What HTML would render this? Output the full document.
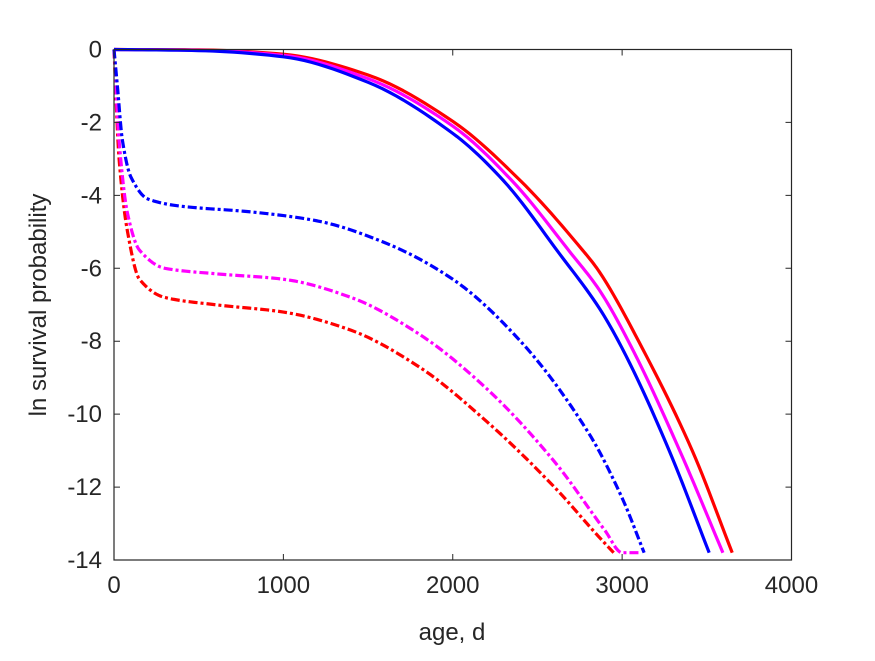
<!DOCTYPE html>
<html><head><meta charset="utf-8"><style>
body{margin:0;background:#fff;width:875px;height:656px;overflow:hidden}
text{font-family:"Liberation Sans",Arial,sans-serif;fill:#262626}
</style></head><body>
<svg id="chart" width="875" height="656">
<g id="marks"></g>
<rect x="114" y="49.5" width="677.5" height="510.5" fill="none" stroke="#262626" stroke-width="1.2"/>
<g id="ticks"></g>
<text x="452" y="640" font-size="24" text-anchor="middle">age, d</text>
<text transform="translate(46,305) rotate(-90)" font-size="24" text-anchor="middle">ln survival probability</text>
</svg>
<script>
const xTicks=[0,1000,2000,3000,4000];
const yTicks=[0,-2,-4,-6,-8,-10,-12,-14];
const blueSolidX=[0,500,1000,1500,2000,2300,2630,2866,3023,3278,3514];
const blueSolidY=[0,-0.03,-0.2,-0.9,-2.3,-3.6,-5.6,-7.1,-8.4,-11.0,-13.8];
const magSolidX=[0,500,1000,1500,2000,2350,2700,2866,3070,3340,3595];
const magSolidY=[0,-0.02,-0.16,-0.8,-2.1,-3.6,-5.6,-6.6,-8.3,-11.0,-13.8];
const redSolidX=[0,500,1000,1500,2000,2400,2766,2866,3120,3414,3650];
const redSolidY=[0,-0.01,-0.13,-0.7,-1.97,-3.6,-5.5,-6.1,-8.2,-11.0,-13.8];
const blueDashX=[0,20,50,100,200,400,800,1200,1600,2000,2400,2800,3000,3130];
const blueDashY=[0,-1,-2.5,-3.5,-4.1,-4.3,-4.45,-4.7,-5.3,-6.3,-8,-10.5,-12.3,-13.8];
const magDashX=[0,30,80,150,300,600,1000,1400,1800,2200,2600,2900,3000,3100];
const magDashY=[0,-2.5,-4.5,-5.5,-6.0,-6.15,-6.3,-6.8,-7.8,-9.3,-11.3,-13.2,-13.8,-13.8];
const redDashX=[0,30,80,150,300,600,1000,1400,1800,2200,2600,2850,2950];
const redDashY=[0,-3,-5,-6.3,-6.8,-7.0,-7.2,-7.7,-8.7,-10.2,-12.0,-13.3,-13.8];
const X0=114,X1=791.5,Y0=49.5,Y1=560;
function sx(v){return X0+(v/4000)*(X1-X0);}
function sy(v){return Y0+(-v/14)*(Y1-Y0);}
const NS="http://www.w3.org/2000/svg";
const marks=document.getElementById('marks'),ticks=document.getElementById('ticks');
function path(xs,ys){
  const n=xs.length,d=[],m=new Array(n);
  for(let i=0;i<n-1;i++)d.push((ys[i+1]-ys[i])/(xs[i+1]-xs[i]));
  m[0]=d[0];m[n-1]=d[n-2];
  for(let i=1;i<n-1;i++){m[i]=(d[i-1]*d[i]<=0)?0:2/(1/d[i-1]+1/d[i]);}
  let s='M'+sx(xs[0])+' '+sy(ys[0]);
  for(let i=0;i<n-1;i++){const h=xs[i+1]-xs[i];
    for(let k=1;k<=12;k++){const t=k/12,t2=t*t,t3=t2*t;
      const y=(2*t3-3*t2+1)*ys[i]+(t3-2*t2+t)*h*m[i]+(-2*t3+3*t2)*ys[i+1]+(t3-t2)*h*m[i+1];
      s+='L'+sx(xs[i]+t*h).toFixed(2)+' '+sy(y).toFixed(2);}}
  return s;}
function line(xs,ys,color,dash,name){const p=document.createElementNS(NS,'path');p.setAttribute('d',path(xs,ys));p.setAttribute('fill','none');p.setAttribute('stroke',color);p.setAttribute('stroke-width','3.2');p.setAttribute('stroke-linejoin','round');if(dash)p.setAttribute('stroke-dasharray','9,3,3,3');


marks.appendChild(p);}
line(redDashX,redDashY,'#ff0000',true,'red-dashdot-line');
line(magDashX,magDashY,'#ff00ff',true,'magenta-dashdot-line');
line(blueDashX,blueDashY,'#0000ff',true,'blue-dashdot-line');
line(redSolidX,redSolidY,'#ff0000',false,'red-solid-line');
line(magSolidX,magSolidY,'#ff00ff',false,'magenta-solid-line');
line(blueSolidX,blueSolidY,'#0000ff',false,'blue-solid-line');
xTicks.forEach(v=>{const x=sx(v);const l=document.createElementNS(NS,'path');l.setAttribute('d',`M${x} ${Y1}V${Y1-6}M${x} ${Y0}V${Y0+6}`);l.setAttribute('stroke','#262626');


ticks.appendChild(l);const t=document.createElementNS(NS,'text');t.setAttribute('x',x);t.setAttribute('y',Y1+33);t.setAttribute('font-size','24');t.setAttribute('text-anchor','middle');t.textContent=v;


ticks.appendChild(t);});
yTicks.forEach(v=>{const y=sy(v);const l=document.createElementNS(NS,'path');l.setAttribute('d',`M${X0} ${y}H${X0+6}M${X1} ${y}H${X1-6}`);l.setAttribute('stroke','#262626');


ticks.appendChild(l);const t=document.createElementNS(NS,'text');t.setAttribute('x',X0-12);t.setAttribute('y',y+8);t.setAttribute('font-size','24');t.setAttribute('text-anchor','end');t.textContent=v;


ticks.appendChild(t);});
</script>
</body></html>
